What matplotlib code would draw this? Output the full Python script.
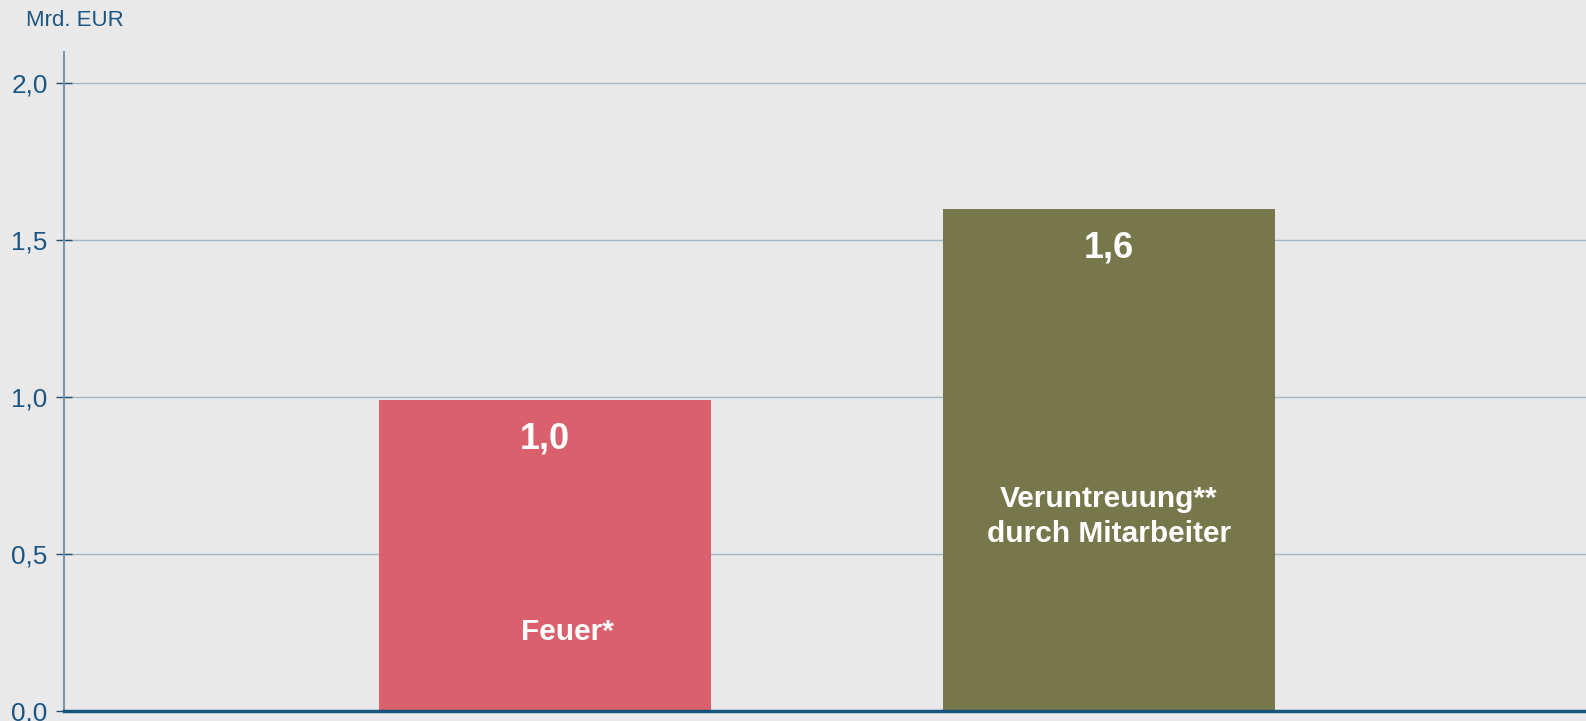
import matplotlib
matplotlib.use("Agg")
import matplotlib.pyplot as plt
from matplotlib.ticker import FuncFormatter

plt.rcParams['font.family'] = ['Liberation Sans', 'DejaVu Sans']

categories = ["Feuer*", "Veruntreuung**\ndurch Mitarbeiter"]
values = [0.99, 1.60]
value_labels = ["1,0", "1,6"]
colors = ["#d9606c", "#76774b"]
label_y = [0.25, 0.62]
label_dx = [22, 0]
yticks = [0.0, 0.5, 1.0, 1.5, 2.0]
unit_label = "Mrd. EUR"

bg = "#e9e9e9"
tick_col = "#1b5583"

fig = plt.figure(figsize=(15.86, 7.21), dpi=100, facecolor=bg)
ax = fig.add_axes([64/1586, 10/721, 1 - 64/1586, (711 - 51.6)/721])
ax.set_facecolor(bg)

x = list(range(len(categories)))
bars = ax.bar(x, values, width=0.589, color=colors, zorder=2)

ax.set_xlim(-0.853, 1.846)
ax.set_ylim(0, 2.1)
ax.set_yticks(yticks)
ax.yaxis.set_major_formatter(FuncFormatter(lambda v, p: f"{v:.1f}".replace(".", ",")))
ax.tick_params(axis='y', direction='inout', labelsize=18.8, length=11.5, width=1.0,
               pad=6, labelcolor=tick_col, color="#24506e")
ax.set_xticks([])
ax.grid(axis='y', color="#a3b6c3", linewidth=1.0, zorder=0)

for s in ["top", "right"]:
    ax.spines[s].set_visible(False)
ax.spines["left"].set_color("#7a95a8")
ax.spines["left"].set_linewidth(1.5)
ax.spines["bottom"].set_color("#17557f")
ax.spines["bottom"].set_linewidth(2.5)
ax.spines["bottom"].set_zorder(3)

for xi, v, vl, cat, ly, dx in zip(x, values, value_labels, categories, label_y, label_dx):
    ax.annotate(vl, xy=(xi, v), xytext=(0, -39), textcoords="offset pixels",
                ha="center", va="center", color="white", fontsize=26,
                fontweight="bold", zorder=4)
    ax.annotate(cat, xy=(xi, ly), xytext=(dx, 0), textcoords="offset pixels",
                ha="center", va="center", color="white", fontsize=21.5,
                fontweight="bold", linespacing=1.3, zorder=4)

fig.text(26/1586, 1 - 20/721, unit_label, ha="left", va="center",
         color=tick_col, fontsize=16)

fig.savefig("out.png", dpi=100, facecolor=bg)
